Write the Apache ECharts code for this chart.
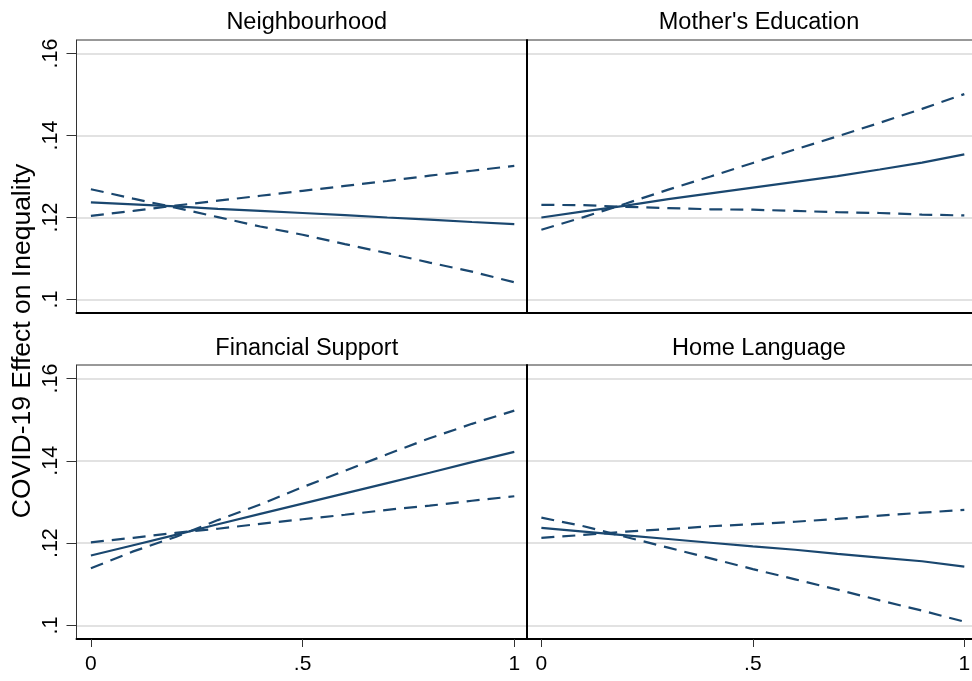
<!DOCTYPE html>
<html>
<head>
<meta charset="utf-8">
<script src="https://cdn.jsdelivr.net/npm/echarts@6/dist/echarts.min.js"></script>
<style>
  html, body { margin: 0; padding: 0; background: #fff; }
  #chart { width: 972px; height: 681px; }
</style>
</head>
<body>
<div id="chart"></div>
<script>
// x values (0..1 in steps of .1)
const xVals = [0, 0.1, 0.2, 0.3, 0.4, 0.5, 0.6, 0.7, 0.8, 0.9, 1];

const panelTitles = ["Neighbourhood", "Mother's Education", "Financial Support", "Home Language"];
const yTicks = [0.1, 0.12, 0.14, 0.16];
const xTicks = [0, 0.5, 1];

// Neighbourhood
const neighEst = [0.1237, 0.1232, 0.1227, 0.1221, 0.1216, 0.1211, 0.1206, 0.1200, 0.1195, 0.1189, 0.1184];
const neighCiA = [0.1269, 0.1246, 0.1224, 0.1201, 0.1178, 0.1158, 0.1135, 0.1113, 0.1090, 0.1068, 0.1042];
const neighCiB = [0.1204, 0.1216, 0.1229, 0.1241, 0.1253, 0.1265, 0.1277, 0.1289, 0.1302, 0.1314, 0.1326];

// Mother's Education
const motherEst = [0.1200, 0.1215, 0.1229, 0.1245, 0.1259, 0.1273, 0.1287, 0.1301, 0.1317, 0.1334, 0.1354];
const motherCiA = [0.1170, 0.1201, 0.1234, 0.1268, 0.1300, 0.1333, 0.1366, 0.1398, 0.1431, 0.1465, 0.1501];
const motherCiB = [0.1231, 0.1230, 0.1226, 0.1223, 0.1220, 0.1219, 0.1216, 0.1213, 0.1211, 0.1207, 0.1205];

// Financial Support
const financeEst = [0.1170, 0.1195, 0.1220, 0.1246, 0.1271, 0.1296, 0.1321, 0.1346, 0.1371, 0.1397, 0.1422];
const financeCiA = [0.1202, 0.1213, 0.1225, 0.1235, 0.1247, 0.1258, 0.1269, 0.1281, 0.1291, 0.1303, 0.1314];
const financeCiB = [0.1139, 0.1180, 0.1215, 0.1256, 0.1294, 0.1336, 0.1376, 0.1416, 0.1455, 0.1490, 0.1522];

// Home Language
const homeEst = [0.1237, 0.1228, 0.1219, 0.1210, 0.1201, 0.1192, 0.1184, 0.1174, 0.1165, 0.1156, 0.1143];
const homeCiA = [0.1262, 0.1241, 0.1215, 0.1189, 0.1163, 0.1137, 0.1112, 0.1087, 0.1061, 0.1036, 0.1009];
const homeCiB = [0.1213, 0.1220, 0.1228, 0.1234, 0.1241, 0.1246, 0.1252, 0.1259, 0.1267, 0.1274, 0.1281];

const panels = [
  [neighEst, neighCiA, neighCiB],
  [motherEst, motherCiA, motherCiB],
  [financeEst, financeCiA, financeCiB],
  [homeEst, homeCiA, homeCiB]
];

const FONT = "'Liberation Sans', Arial, sans-serif";
const NAVY = "#1a476f";
const fmt = (v) => String(+v.toFixed(2)).replace(/^0(?=\.)/, "");

// right-hand panels run past the edge of the picture, like the original
const grids = [
  { left: 76.5, top: 40, width: 450.5, height: 273 },
  { left: 527, top: 40, width: 450, height: 273 },
  { left: 76.5, top: 365, width: 450.5, height: 274 },
  { left: 527, top: 365, width: 450, height: 274 }
].map((g) => ({ ...g, show: true, borderColor: "#333", borderWidth: 1, containLabel: false, outerBoundsMode: "none" }));

const titleCenters = [301.75, 754, 301.75, 754];
const titleTops = [6, 6, 332, 332];

const xAxes = grids.map((g, i) => {
  const bottom = i >= 2;
  return {
    type: "value",
    gridIndex: i,
    min: -0.034,
    max: 1.03,
    axisLine: { show: true, onZero: false, lineStyle: { color: "#000", width: 2 } },
    axisTick: { show: bottom, customValues: xTicks, length: 8, lineStyle: { color: "#333", width: 1 } },
    axisLabel: {
      show: bottom, customValues: xTicks, margin: 15,
      fontFamily: FONT, fontSize: 21, color: "#000",
      formatter: fmt
    },
    splitLine: { show: false }
  };
});

const yAxes = grids.map((g, i) => {
  const left = i % 2 === 0;
  return {
    type: "value",
    gridIndex: i,
    min: 0.0967,
    max: 0.1633,
    axisLine: { show: true, onZero: false, lineStyle: left ? { color: "#333", width: 1 } : { color: "#000", width: 2 } },
    axisTick: { show: left, customValues: yTicks, length: 10, lineStyle: { color: "#333", width: 1 } },
    axisLabel: {
      show: left, customValues: yTicks, rotate: 90, margin: 14,
      fontFamily: FONT, fontSize: 21.5, color: "#000",
      formatter: fmt
    },
    splitLine: { show: true, lineStyle: { color: "#e2e2e2", width: 1.8 } }
  };
});

const series = [];
panels.forEach((lines, i) => {
  lines.forEach((vals, k) => {
    series.push({
      type: "line",
      xAxisIndex: i,
      yAxisIndex: i,
      data: xVals.map((x, j) => [x, vals[j]]),
      showSymbol: false,
      symbol: "none",
      silent: true,
      lineStyle: { color: NAVY, width: 2.2, type: k === 0 ? "solid" : [13, 8] },
      z: 3
    });
  });
});

const chart = echarts.init(document.getElementById("chart"));
chart.setOption({
  backgroundColor: "#fff",
  animation: false,
  title: panelTitles.map((t, i) => ({
    text: t,
    left: titleCenters[i],
    top: titleTops[i],
    textAlign: "center",
    textStyle: { fontFamily: FONT, fontSize: 23.5, fontWeight: "normal", color: "#000" }
  })),
  grid: grids,
  xAxis: xAxes,
  yAxis: yAxes,
  series: series,
  graphic: [{
    type: "text",
    x: 22.5,
    y: 341,
    rotation: Math.PI / 2,
    style: {
      text: "COVID-19 Effect on Inequality",
      font: "26.5px " + FONT,
      fill: "#000",
      textAlign: "center",
      textVerticalAlign: "middle"
    }
  }]
});
</script>
</body>
</html>
